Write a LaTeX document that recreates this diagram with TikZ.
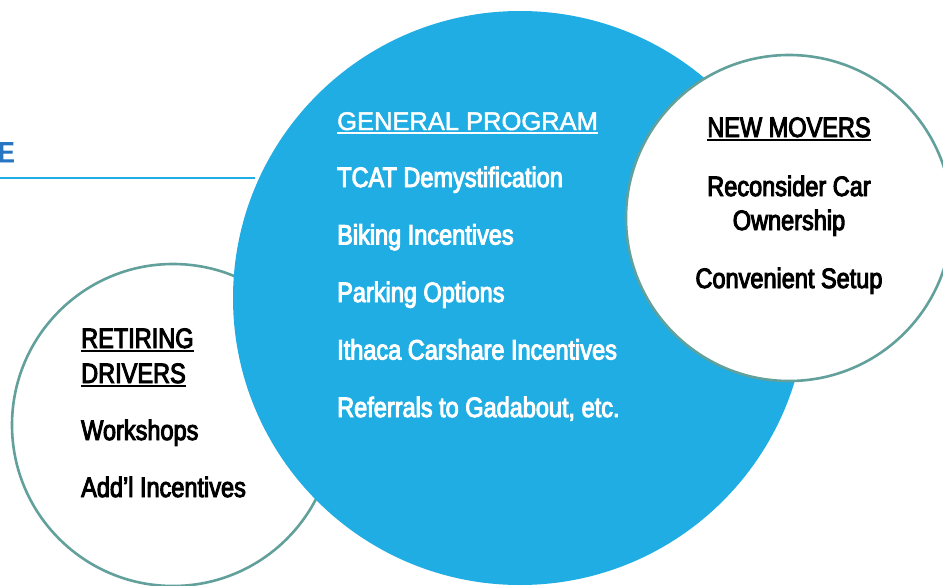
\documentclass[tikz,border=0pt]{standalone}
\usepackage{fontspec}
\setmainfont{Liberation Sans}
\newfontfamily\condfont[FakeStretch=0.84,FakeBold=3.5]{Liberation Sans}
\newfontfamily\headfont[FakeBold=1.8]{Liberation Sans}
\definecolor{progblue}{RGB}{31,173,227}
\definecolor{ringteal}{RGB}{98,160,155}
\definecolor{titleblue}{RGB}{40,118,194}
\newcommand\ulined[1]{\setbox0=\hbox{#1}\rlap{\rule[-4.2pt]{\wd0}{2pt}}\box0}
\begin{document}
\begin{tikzpicture}[x=1pt,y=-1pt,
			every node/.style={inner sep=0pt},
			ring/.style={circle,draw=ringteal,line width=2.6pt,fill=white,minimum size=#1},
			item/.style={font=\condfont\fontsize{28}{30}\selectfont},
			head/.style={font=\headfont\fontsize{25.5}{28}\selectfont},]
\useasboundingbox (0,0) rectangle (943,586);
\clip (0,0) rectangle (943,586);
% circles
\node[ring=322pt] (retiring) at (173,425) {};
\node[circle,fill=progblue,minimum size=574pt] (general) at (520,298) {};
\node[ring=326pt] (movers) at (789,218) {};
% title remnant
\node[anchor=base west,text=titleblue,font=\condfont\fontsize{28}{30}\selectfont] (title) at (-1.5,162) {E};
\coordinate (rulestart) at (0,178);
\coordinate (ruleend) at (255,178);
\draw[progblue,line width=2.4pt] (rulestart) -- (ruleend);
% general program
\node[head,text=white,anchor=base west] (genhead) at (337,130) {\ulined{GENERAL PROGRAM}};
\foreach \t [count=\i] in {TCAT Demystification,Biking Incentives,Parking Options,
		Ithaca Carshare Incentives,{Referrals to Gadabout, etc.}}
	\node[item,text=white,anchor=base west] (gen\i) at (337,129.5+57.5*\i) {\t};
% new movers
\node[item,anchor=base] (movhead) at (789,137) {\ulined{NEW MOVERS}};
\node[item,anchor=base] (mov1a) at (789,196) {Reconsider Car};
\node[item,anchor=base] (mov1b) at (789,230) {Ownership};
\node[item,anchor=base] (mov2) at (789,288) {Convenient Setup};
% retiring drivers
\node[item,anchor=base west] (rethead1) at (81,348) {\ulined{RETIRING}};
\node[item,anchor=base west] (rethead2) at (81,383) {\ulined{DRIVERS}};
\node[item,anchor=base west] (ret1) at (81,440) {Workshops};
\node[item,anchor=base west] (ret2) at (81,497) {Add’l Incentives};
\end{tikzpicture}
\end{document}
